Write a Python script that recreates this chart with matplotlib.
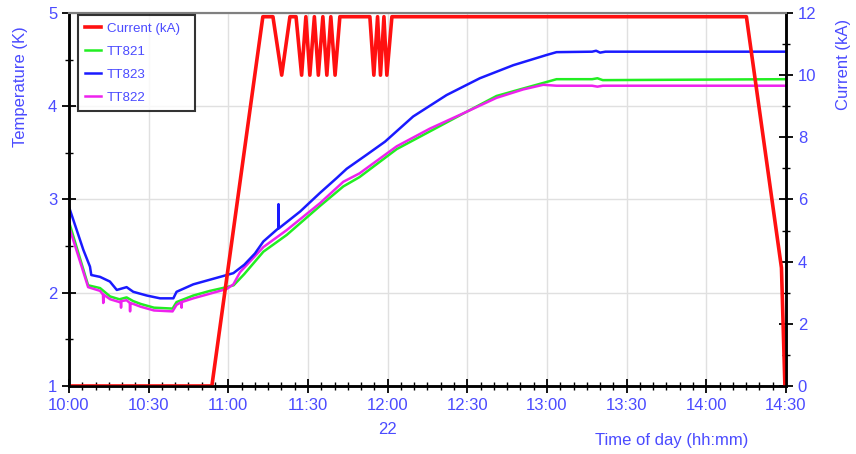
import matplotlib
matplotlib.use("Agg")
import matplotlib.pyplot as plt
from matplotlib.ticker import MultipleLocator, FuncFormatter

plt.rcParams['font.family'] = ['Liberation Sans', 'DejaVu Sans']

# minutes after 10:00 on day 22
cur_t = [0, 53.8, 73.0, 76.8, 80.1, 83.2, 85.5, 87.6, 89.2, 90.7, 92.4, 93.9,
         95.6, 97.1, 98.6, 100.2, 102.0, 113.3, 114.8, 116.2, 117.3, 118.6,
         119.7, 121.6, 255.1, 268.3, 269.6]
cur_ka = [0, 0, 11.88, 11.88, 10.0, 11.88, 11.88, 10.0, 11.88, 10.0, 11.88, 10.0,
          11.88, 10.0, 11.88, 10.0, 11.88, 11.88, 10.0, 11.88, 10.0, 11.88,
          10.0, 11.88, 11.88, 3.8, 0]

tt823_t = [0, 5.4, 7.9, 8.4, 11.7, 15.4, 18.0, 21.7, 24.2, 29.3, 34.3, 39.3,
           40.5, 46.8, 53.1, 59.4, 61.9, 66.0, 70.0, 73.2, 78.8, 78.9, 79.0,
           87.0, 94.5, 100.8, 104.6, 112.1, 119.0, 129.6, 142.2, 154.7, 167.3,
           179.9, 183.6, 197.0, 198.5, 200.0, 202.0, 269.5]
tt823_k = [2.92, 2.46, 2.28, 2.19, 2.17, 2.12, 2.03, 2.06, 2.01, 1.97, 1.94, 1.94,
           2.01, 2.09, 2.14, 2.19, 2.21, 2.30, 2.42, 2.55, 2.69, 2.95, 2.69,
           2.87, 3.07, 3.23, 3.33, 3.48, 3.62, 3.89, 4.12, 4.30, 4.44,
           4.55, 4.58, 4.585, 4.595, 4.575, 4.585, 4.585]

tt822_t = [0, 7.2, 11.7, 12.8, 12.9, 13.0, 15.5, 19.0, 19.5, 19.6, 19.7, 21.7,
           22.9, 23.0, 23.1, 24.2, 27.0, 32.0, 39.0, 40.5, 42.3, 42.4, 42.5,
           46.8, 53.1, 59.4, 61.9, 64.4, 73.2, 81.9, 94.5, 103.3, 109.4, 123.4,
           135.9, 149.7, 161.0, 171.0, 178.6, 183.6, 197.0, 199.0, 201.0, 269.5]
tt822_k = [2.71, 2.06, 2.02, 1.98, 1.89, 1.98, 1.93, 1.90, 1.91, 1.84, 1.91, 1.92,
           1.89, 1.80, 1.89, 1.88, 1.85, 1.81, 1.80, 1.87, 1.90, 1.84, 1.90,
           1.94, 1.99, 2.04, 2.09, 2.22, 2.49, 2.67, 2.96, 3.19, 3.28, 3.57,
           3.76, 3.94, 4.09, 4.18, 4.23, 4.22, 4.22, 4.21, 4.22, 4.22]

tt821_t = [0, 7.2, 11.7, 15.5, 19.0, 21.7, 24.2, 27.0, 32.0, 39.0, 40.5, 46.8,
           53.1, 59.4, 62.0, 66.0, 73.2, 82.0, 94.5, 103.3, 109.4, 123.4, 135.9,
           149.7, 161.0, 171.0, 178.6, 183.6, 197.0, 199.0, 201.0, 269.5]
tt821_k = [2.76, 2.08, 2.05, 1.96, 1.93, 1.95, 1.91, 1.88, 1.84, 1.83, 1.90, 1.97,
           2.02, 2.06, 2.08, 2.20, 2.44, 2.62, 2.93, 3.14, 3.24, 3.54, 3.73,
           3.94, 4.11, 4.19, 4.25, 4.29, 4.29, 4.30, 4.28, 4.29]

label_blue = '#4b4bff'

fig = plt.figure(figsize=(8.56, 4.54), dpi=100)
ax = fig.add_axes([0.0806, 0.1498, 0.8376, 0.8216])
ax2 = ax.twinx()

l1, = ax.plot(tt821_t, tt821_k, color='#22ee22', lw=1.8, label='TT821')
l3, = ax.plot(tt822_t, tt822_k, color='#ee22ee', lw=1.8, label='TT822')
l2, = ax.plot(tt823_t, tt823_k, color='#1a1aff', lw=1.8, label='TT823')
l0, = ax2.plot(cur_t, cur_ka, color='#ff1010', lw=2.6, label='Current (kA)')

ax.set_xlim(0, 270)
ax.set_ylim(1, 5)
ax2.set_ylim(0, 12)

ax.xaxis.set_major_locator(MultipleLocator(30))
ax.xaxis.set_minor_locator(MultipleLocator(5))
ax.xaxis.set_major_formatter(FuncFormatter(lambda m, p: f"{10 + int(m) // 60}:{int(m) % 60:02d}"))
ax.yaxis.set_major_locator(MultipleLocator(1))
ax.yaxis.set_minor_locator(MultipleLocator(0.5))
ax2.yaxis.set_major_locator(MultipleLocator(2))
ax2.yaxis.set_minor_locator(MultipleLocator(1))

ax.grid(True, which='major', color='#e0e0e0', lw=1)
ax.set_axisbelow(True)

for a in (ax, ax2):
    a.tick_params(which='major', direction='inout', length=10, width=1.3,
                  colors='black', labelcolor=label_blue, labelsize=12)
    a.tick_params(which='minor', direction='inout', length=6, width=1.0,
                  colors='black')
    for s in ('left', 'right', 'bottom'):
        a.spines[s].set_linewidth(1.8)
        a.spines[s].set_color('black')
    a.spines['top'].set_color('#808080')
    a.spines['top'].set_linewidth(1.5)
ax.tick_params(axis='x', which='major', pad=4)

fig.text(0.024, 0.81, 'Temperature (K)', rotation=90, ha='center', va='center',
         color=label_blue, fontsize=12)
fig.text(0.985, 0.857, 'Current (kA)', rotation=90, ha='center', va='center',
         color=label_blue, fontsize=12)
fig.text(0.785, 0.03, 'Time of day (hh:mm)', ha='center', va='center',
         color=label_blue, fontsize=12)
fig.text(0.453, 0.053, '22', ha='center', va='center', color=label_blue, fontsize=12)

leg = ax2.legend([l0, l1, l2, l3], ['Current (kA)', 'TT821', 'TT823', 'TT822'],
                 loc='upper left', bbox_to_anchor=(0.0126, 0.5, 0.163, 0.4946),
                 mode='expand', fontsize=9.6,
                 frameon=True, fancybox=False, handlelength=1.2, labelspacing=0.8,
                 borderpad=0.55, handletextpad=0.4, borderaxespad=0)
leg.get_frame().set_edgecolor('black')
leg.get_frame().set_linewidth(1.5)
for t in leg.get_texts():
    t.set_color(label_blue)

fig.savefig('out.png', dpi=100)
